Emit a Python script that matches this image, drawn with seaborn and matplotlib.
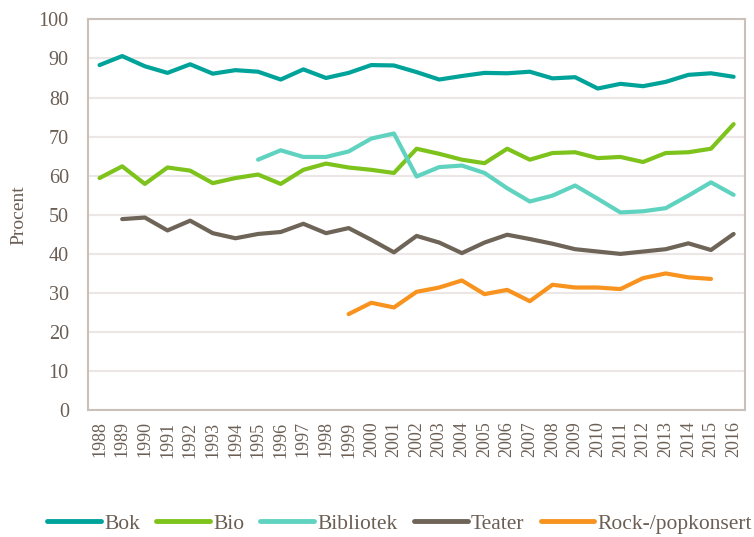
import pandas as pd
import seaborn as sns
import matplotlib.pyplot as plt
import numpy as np

# data (percent)
years = list(range(1988, 2017))

bok = [88.3, 90.6, 88.0, 86.3, 88.5, 86.1, 87.0, 86.6, 84.6, 87.2,
       85.0, 86.3, 88.3, 88.2, 86.5, 84.6, 85.5, 86.3, 86.2, 86.6,
       84.9, 85.2, 82.3, 83.5, 82.9, 84.0, 85.8, 86.2, 85.3]
bio = [59.4, 62.4, 57.9, 62.1, 61.3, 58.1, 59.4, 60.3, 57.9, 61.5,
       63.1, 62.1, 61.5, 60.7, 66.9, 65.6, 64.1, 63.2, 66.9, 64.1,
       65.8, 66.0, 64.5, 64.8, 63.5, 65.8, 66.0, 66.9, 73.2]
bibliotek = [None] * 7 + [64.1, 66.5, 64.8, 64.8, 66.2, 69.5, 70.8,
             59.8, 62.2, 62.6, 60.7, 56.8, 53.4, 54.9, 57.5, 54.1,
             50.6, 50.9, 51.7, 54.9, 58.3, 55.1]
teater = [None] + [48.9, 49.3, 46.0, 48.5, 45.3, 44.0, 45.1, 45.6, 47.7,
          45.3, 46.6, 43.6, 40.4, 44.6, 42.9, 40.2, 42.9, 44.9, 43.8,
          42.6, 41.2, 40.6, 40.0, 40.6, 41.2, 42.7, 41.0, 45.1]
rock = [None] * 11 + [24.6, 27.5, 26.3, 30.3, 31.4, 33.2, 29.7, 30.8,
        27.9, 32.1, 31.4, 31.4, 31.0, 33.8, 35.0, 34.0, 33.6, None]

series = {"Bok": bok, "Bio": bio, "Bibliotek": bibliotek,
          "Teater": teater, "Rock-/popkonsert": rock}
colors = ["#00a39a", "#7dc31c", "#5fd3bf", "#6e6458", "#f7931e"]

rows = []
for name, vals in series.items():
    for yr, v in zip(years, vals):
        if v is not None:
            rows.append({"year": yr, "value": v, "serie": name})
df = pd.DataFrame(rows)

sns.set_style("white")
plt.rcParams['font.family'] = ['Liberation Serif', 'DejaVu Serif']
txt = "#6b5f55"
frame = "#c9c1b9"

fig, ax = plt.subplots(figsize=(7.54, 5.37), dpi=100)
fig.subplots_adjust(left=0.117, right=0.988, top=0.964, bottom=0.236)

sns.lineplot(data=df, x="year", y="value", hue="serie",
             hue_order=list(series.keys()), palette=colors,
             linewidth=3, ax=ax, legend=True)

ax.set_xlim(1987.5, 2016.5)
ax.set_ylim(0, 100)
ax.set_yticks(range(0, 101, 10))
ax.set_xticks(years)
ax.set_xticklabels([str(y) for y in years], rotation=90)
ax.set_xticks(np.arange(1988.5, 2016, 1), minor=True)
ax.tick_params(axis="x", which="major", length=0, labelsize=13,
               colors=txt, pad=8)
ax.tick_params(axis="x", which="minor", length=4, direction="in",
               color=frame, width=1)
ax.tick_params(axis="y", length=0, labelsize=14.5, colors=txt, pad=14)
ax.yaxis.grid(True, color="#ece7e4", linewidth=1.5)
ax.set_axisbelow(True)
for s in ax.spines.values():
    s.set_color(frame)
    s.set_linewidth(1.5)

ax.set_xlabel("")
ax.set_ylabel("Procent", fontsize=14, color=txt, labelpad=8)

handles, labels = ax.get_legend_handles_labels()
ax.get_legend().remove()
for h in handles:
    h.set_linewidth(3.5)
fig.legend(handles, labels, loc="lower center", bbox_to_anchor=(0.53, -0.03),
           ncol=5, frameon=False, fontsize=15.5, labelcolor=txt,
           handlelength=2.5, handletextpad=0.15, columnspacing=0.75)

plt.savefig("out.png", dpi=100)
